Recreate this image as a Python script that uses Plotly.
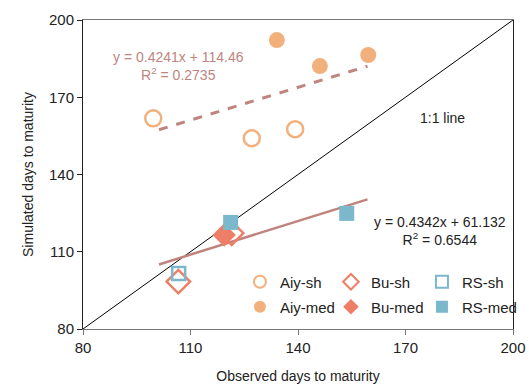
import plotly.graph_objects as go

# ---- data ----
aiy_sh_x = [99.6, 127.1, 139.2]
aiy_sh_y = [161.8, 154.1, 157.6]
aiy_med_x = [134.1, 146.1, 159.6]
aiy_med_y = [192.2, 182.1, 186.4]
bu_sh_x = [106.6, 121.5]
bu_sh_y = [98.4, 117.2]
bu_med_x = [119.4]
bu_med_y = [116.5]
rs_sh_x = [106.7]
rs_sh_y = [101.6]
rs_med_x = [121.2, 153.6]
rs_med_y = [121.4, 124.9]

# trendline equations (from the chart) and the x span they cover
aiy_slope, aiy_int = 0.4241, 114.46
low_slope, low_int = 0.4342, 61.132
trend_x = [101.2, 159.4]
one_to_one = [80, 200]

C_AIY = "#F2B07C"
C_BU = "#EE7F66"
C_RS = "#7BB8CB"
C_TREND = "#C0847E"
FONT = "Liberation Sans, Arial, sans-serif"

fig = go.Figure()

# 1:1 line
fig.add_trace(go.Scatter(x=one_to_one, y=one_to_one, mode="lines",
                         line=dict(color="black", width=1), showlegend=False,
                         hoverinfo="skip"))
# trendlines
fig.add_trace(go.Scatter(x=trend_x, y=[aiy_slope * v + aiy_int for v in trend_x],
                         mode="lines", line=dict(color=C_TREND, width=3, dash="dash"),
                         showlegend=False))
fig.add_trace(go.Scatter(x=trend_x, y=[low_slope * v + low_int for v in trend_x],
                         mode="lines", line=dict(color=C_TREND, width=2.5),
                         showlegend=False))

def add(x, y, name, symbol, color, filled, size, legend):
    if filled:
        marker = dict(symbol=symbol, size=size, color=color, line=dict(width=0))
    else:
        marker = dict(symbol=symbol + "-open", size=size, color=color,
                      line=dict(width=2.5, color=color))
    fig.add_trace(go.Scatter(x=x, y=y, mode="markers", name=name, marker=marker,
                             legend=legend))

def spacer(legend):
    # empty legend slot so the last entry's label is not clipped
    fig.add_trace(go.Scatter(x=[None], y=[None], mode="markers", name=" ",
                             marker=dict(color="rgba(0,0,0,0)", size=1),
                             legend=legend, hoverinfo="skip"))

add(aiy_sh_x, aiy_sh_y, "Aiy-sh", "circle", C_AIY, False, 16, "legend")
add(bu_sh_x, bu_sh_y, "Bu-sh", "diamond", C_BU, False, 18, "legend")
add(rs_sh_x, rs_sh_y, "RS-sh", "square", C_RS, False, 13, "legend")
spacer("legend")
add(aiy_med_x, aiy_med_y, "Aiy-med", "circle", C_AIY, True, 16, "legend2")
add(bu_med_x, bu_med_y, "Bu-med", "diamond", C_BU, True, 18, "legend2")
add(rs_med_x, rs_med_y, "RS-med", "square", C_RS, True, 15, "legend2")
spacer("legend2")

leg_common = dict(orientation="h", entrywidth=46, entrywidthmode="pixels",
                  xanchor="left", yanchor="middle", bgcolor="rgba(0,0,0,0)",
                  font=dict(family=FONT, size=15, color="#222"),
                  itemsizing="constant", traceorder="normal")

fig.update_layout(
    width=529, height=384,
    margin=dict(l=83, r=16, t=20, b=55, autoexpand=False),
    plot_bgcolor="white", paper_bgcolor="white",
    font=dict(family=FONT, size=15, color="#222"),
    showlegend=True,
    legend=dict(x=0.365, y=0.152, **leg_common),
    legend2=dict(x=0.365, y=0.071, **leg_common),
    xaxis=dict(range=[80, 200], tickvals=[80, 110, 140, 170, 200],
               showgrid=False, zeroline=False, showline=True, linecolor="#777",
               linewidth=1, mirror=True, ticks="outside", ticklen=5,
               tickcolor="#777", tickfont=dict(size=15, color="#222"),
               automargin=True,
               title=dict(text="Observed days to maturity", standoff=18,
                          font=dict(size=14, color="#222"))),
    yaxis=dict(range=[80, 200], tickvals=[80, 110, 140, 170, 200],
               showgrid=False, zeroline=False, showline=True, linecolor="#222",
               linewidth=1, mirror=True, ticks="outside", ticklen=5,
               tickcolor="#222", tickfont=dict(size=15, color="#222"),
               automargin=True,
               title=dict(text="Simulated days to maturity", standoff=12,
                          font=dict(size=14, color="#222"))),
    annotations=[
        dict(x=106.6, y=182.3, text="y = 0.4241x + 114.46<br>R<sup>2</sup> = 0.2735",
             showarrow=False, font=dict(size=14, color=C_TREND), align="center"),
        dict(x=179.6, y=118.1, text="y = 0.4342x + 61.132<br>R<sup>2</sup> = 0.6544",
             showarrow=False, font=dict(size=14, color="#222"), align="center"),
        dict(x=180.3, y=161.8, text="1:1 line", showarrow=False,
             font=dict(size=14, color="#222")),
    ],
)

fig.write_html("out.html",
               config={"displayModeBar": False},
               post_script="document.body.style.margin='0';"
                           "document.body.style.overflow='hidden';")
